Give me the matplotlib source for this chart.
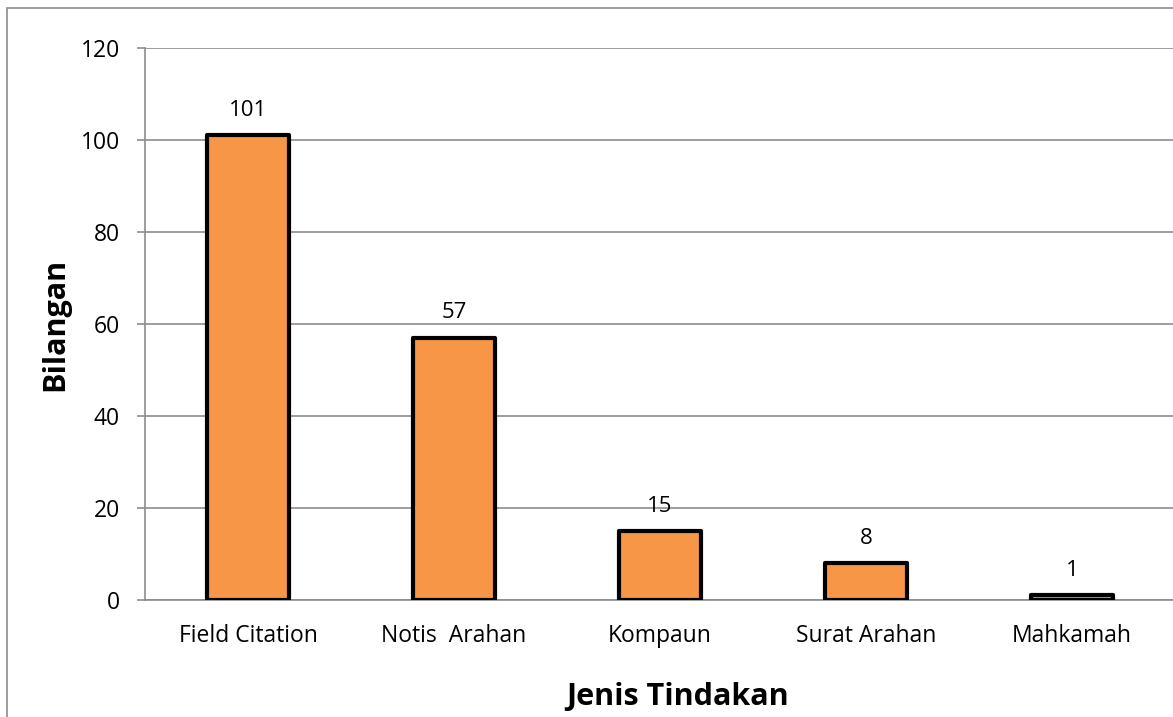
import matplotlib
matplotlib.use("Agg")
import matplotlib.pyplot as plt
from matplotlib.patches import Rectangle

categories = ["Field Citation", "Notis  Arahan", "Kompaun", "Surat Arahan", "Mahkamah"]
values = [101, 57, 15, 8, 1]
yticks = [0, 20, 40, 60, 80, 100, 120]

plt.rcParams['font.family'] = ['Open Sans', 'DejaVu Sans']

W, H = 1173, 717
fig = plt.figure(figsize=(W / 100, H / 100), dpi=100)
ax = fig.add_axes([145 / W, 1 - 600 / H, (1175 - 145) / W, (600 - 48) / H])

grey = '#8c8c8c'
x = list(range(len(categories)))
bars = ax.bar(x, values, width=0.4, color='#F79646', edgecolor='black',
              linewidth=3.0, zorder=3)
for b in bars:
    b.set_joinstyle('round')

for xi, v in zip(x, values):
    ax.annotate(str(v), (xi, v), xytext=(0, 18), textcoords='offset points',
                ha='center', va='center', fontsize=16, color='black', zorder=4)

ax.set_xlim(-0.5, len(categories) - 0.5)
ax.set_ylim(0, 120)
ax.set_yticks(yticks)
ax.set_xticks(x)
ax.set_xticklabels(categories)
ax.tick_params(axis='x', length=0, pad=17, labelsize=16.5)
ax.tick_params(axis='y', length=6, width=1.2, color=grey, pad=12, labelsize=16.5)
ax.grid(axis='y', color=grey, linewidth=1.2, zorder=0)
ax.set_axisbelow(True)
for s in ['top', 'right']:
    ax.spines[s].set_visible(False)
for s in ['left', 'bottom']:
    ax.spines[s].set_color(grey)
    ax.spines[s].set_linewidth(1.2)
ax.spines['bottom'].set_zorder(2)

fig.text(55 / W, 1 - 324 / H, "Bilangan", rotation=90, ha='center', va='center',
         fontsize=22, fontweight='bold')
fig.text(678 / W, 1 - 697 / H, "Jenis Tindakan", ha='center', va='center',
         fontsize=22, fontweight='bold')

fig.patches.append(Rectangle((7 / W, -0.1), 1.2, 1 - 8 / H + 0.1, transform=fig.transFigure,
                             fill=False, edgecolor=grey, linewidth=1.2))

fig.savefig("out.png", dpi=100)
